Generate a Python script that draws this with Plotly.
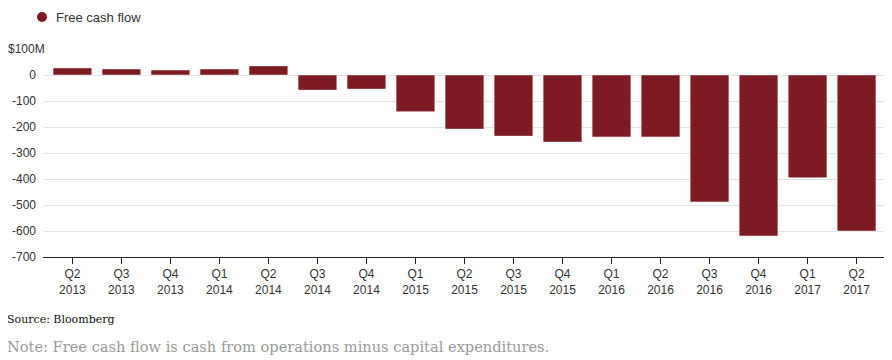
import plotly.graph_objects as go

quarters = ["Q2<br>2013", "Q3<br>2013", "Q4<br>2013", "Q1<br>2014", "Q2<br>2014", "Q3<br>2014",
            "Q4<br>2014", "Q1<br>2015", "Q2<br>2015", "Q3<br>2015", "Q4<br>2015", "Q1<br>2016",
            "Q2<br>2016", "Q3<br>2016", "Q4<br>2016", "Q1<br>2017", "Q2<br>2017"]
free_cash_flow = [27, 23, 19, 23, 35, -58, -54, -141, -208, -235, -258, -238, -238, -488, -619, -395, -600]

y_tickvals = [100, 0, -100, -200, -300, -400, -500, -600, -700]
y_ticktext = ["", "0", "-100", "-200", "-300", "-400", "-500", "-600", "-700"]
top_label = "$100M"
series_name = "Free cash flow"
source_text = "Source: Bloomberg"
note_text = "Note: Free cash flow is cash from operations minus capital expenditures."

bar_color = "#7E1A22"

# the page body adds an 8px margin; compensate so the picture lines up with the window
OFF = 8
W, H = 892, 360
L, T = 43 - OFF, 49 - OFF
PW, PH = 841, 208
R = W - L - PW
B = H - T - PH


def px_x(x):
    # x in window pixels -> paper coordinate
    return (x - OFF - L) / PW


def px_y(y):
    # y in window pixels (from top) -> paper coordinate
    return (T + PH - (y - OFF)) / PH


fig = go.Figure()
fig.add_trace(go.Bar(
    x=quarters, y=free_cash_flow, name=series_name,
    marker=dict(color=bar_color, line=dict(color="rgba(255,255,255,0.45)", width=1)),
    width=0.79, showlegend=False, hoverinfo="y",
))

fig.update_layout(
    width=W, height=H,
    margin=dict(l=L, r=R, t=T, b=B, autoexpand=False),
    paper_bgcolor="white", plot_bgcolor="white",
    font=dict(family="Liberation Sans, Arial, sans-serif", size=12, color="#333"),
    showlegend=False,
)
fig.update_xaxes(
    range=[-0.6, 16.56], showgrid=False, showline=True, linecolor="#222", linewidth=1,
    ticks="outside", ticklen=6, tickcolor="#222", tickfont=dict(size=12, color="#333"),
    fixedrange=True, automargin=False,
)
fig.update_yaxes(
    range=[-700, 100], tickvals=y_tickvals, ticktext=y_ticktext,
    showgrid=True, gridcolor="#e3e3e3", gridwidth=1, zeroline=False,
    showline=False, ticks="", ticklabelstandoff=6, tickfont=dict(size=12, color="#333"),
    fixedrange=True, automargin=False,
)

# top tick label, hanging to the left
fig.add_annotation(text=top_label, xref="paper", yref="y", x=px_x(6), y=100,
                   xanchor="left", yanchor="middle", showarrow=False,
                   font=dict(size=12, color="#333"))

# legend
fig.add_shape(type="circle", xref="paper", yref="paper",
              x0=px_x(37), x1=px_x(47), y0=px_y(12), y1=px_y(22),
              fillcolor=bar_color, line=dict(width=0))
fig.add_annotation(text=series_name, xref="paper", yref="paper", x=px_x(54), y=px_y(17),
                   xanchor="left", yanchor="middle", showarrow=False,
                   font=dict(size=13, color="#333"))

fig.add_annotation(text=source_text, xref="paper", yref="paper",
                   x=px_x(5), y=px_y(319), xanchor="left", yanchor="middle",
                   showarrow=False, font=dict(family="DejaVu Serif, Georgia, serif", size=11, color="#111"))
fig.add_annotation(text=note_text, xref="paper", yref="paper",
                   x=px_x(5), y=px_y(346), xanchor="left", yanchor="middle",
                   showarrow=False, font=dict(family="DejaVu Serif, Georgia, serif", size=14.6, color="#999"))

fig.write_html("out.html")
